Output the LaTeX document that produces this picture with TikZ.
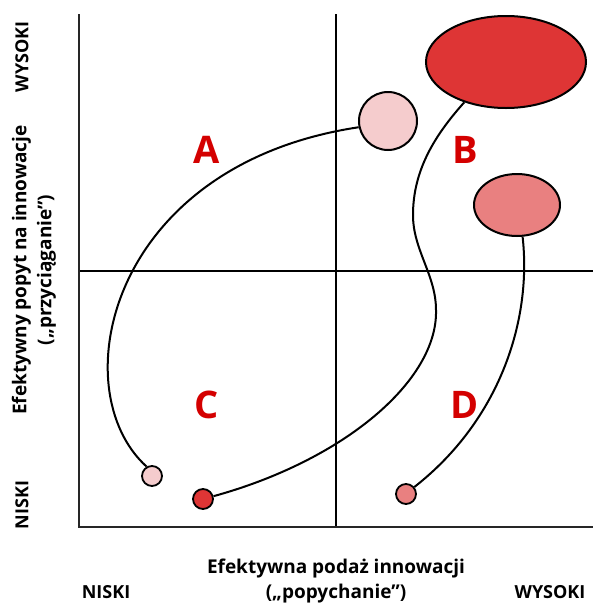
\documentclass[tikz,border=0pt]{standalone}
\usepackage{fontspec}
\setmainfont{Open Sans}
\usetikzlibrary{shapes.geometric}
\definecolor{cred}{HTML}{DE3535}
\definecolor{cpink}{HTML}{F5CCCD}
\definecolor{csalmon}{HTML}{E98080}
\definecolor{clab}{HTML}{D40000}
\begin{document}
\begin{tikzpicture}[x=1pt,y=-1pt,
 blob/.style={draw=black,line width=2pt,inner sep=0pt},
 dot/.style={circle,draw=black,line width=1.8pt,minimum size=20pt,inner sep=0pt},
 link/.style={line width=2pt},
 quad/.style={text=clab,font=\fontsize{38}{40}\selectfont\bfseries},
 axl/.style={font=\fontsize{19}{25}\selectfont\bfseries,align=center},
 axe/.style={font=\fontsize{18}{22}\selectfont\bfseries},
 axisline/.style={line width=2pt,draw=black!85},
 midline/.style={line width=1.5pt}]
\useasboundingbox (0,0) rectangle (594,603);
% axes
\coordinate (o) at (79,527);
\coordinate (ytop) at (79,14);
\coordinate (xend) at (593,527);
\coordinate (vt) at (336,14);
\coordinate (vb) at (336,527);
\coordinate (hl) at (79,271);
\coordinate (hr) at (593,271);
\draw[midline] (vt) -- (vb);
\draw[midline] (hl) -- (hr);
\draw[axisline] (ytop) -- (o) -- (xend);
% shapes
\node[blob,ellipse,fill=cred,minimum width=160pt,minimum height=92pt] (rb) at (506,62) {};
\node[blob,circle,fill=cpink,minimum size=58pt] (pb) at (388,121) {};
\node[blob,ellipse,fill=csalmon,minimum width=86pt,minimum height=62pt] (sb) at (517,205) {};
\node[dot,fill=cpink] (ps) at (152,476) {};
\node[dot,fill=cred] (rs) at (203,499) {};
\node[dot,fill=csalmon] (ss) at (406,494) {};
% connectors
\draw[link] (ps.120) .. controls (62,390) and (108,165) .. (pb.192);
\draw[link] (rs.15) .. controls (345,460) and (438,380) .. (436,310)
  .. controls (436,275) and (413,250) .. (413,215)
  .. controls (413,170) and (435,135) .. (rb.224);
\draw[link] (ss.40) .. controls (500,420) and (532,320) .. (sb.280);
% quadrant labels
\node[quad] (la) at (207,150) {A};
\node[quad] (lb) at (465,150) {B};
\node[quad] (lc) at (207,405) {C};
\node[quad] (ld) at (465,405) {D};
% axis labels
\node[axe,rotate=90] (yhi) at (22,57) {WYSOKI};
\node[axe,rotate=90] (ylo) at (22,505) {NISKI};
\node[axl,rotate=90] (ytitle) at (34,270) {Efektywny popyt na innowacje\\(„przyciąganie”)};
\node[axl] (xtitle) at (336,581) {Efektywna podaż innowacji\\(„popychanie”)};
\node[axe] (xlo) at (106,592) {NISKI};
\node[axe] (xhi) at (550,592) {WYSOKI};
\end{tikzpicture}
\end{document}
